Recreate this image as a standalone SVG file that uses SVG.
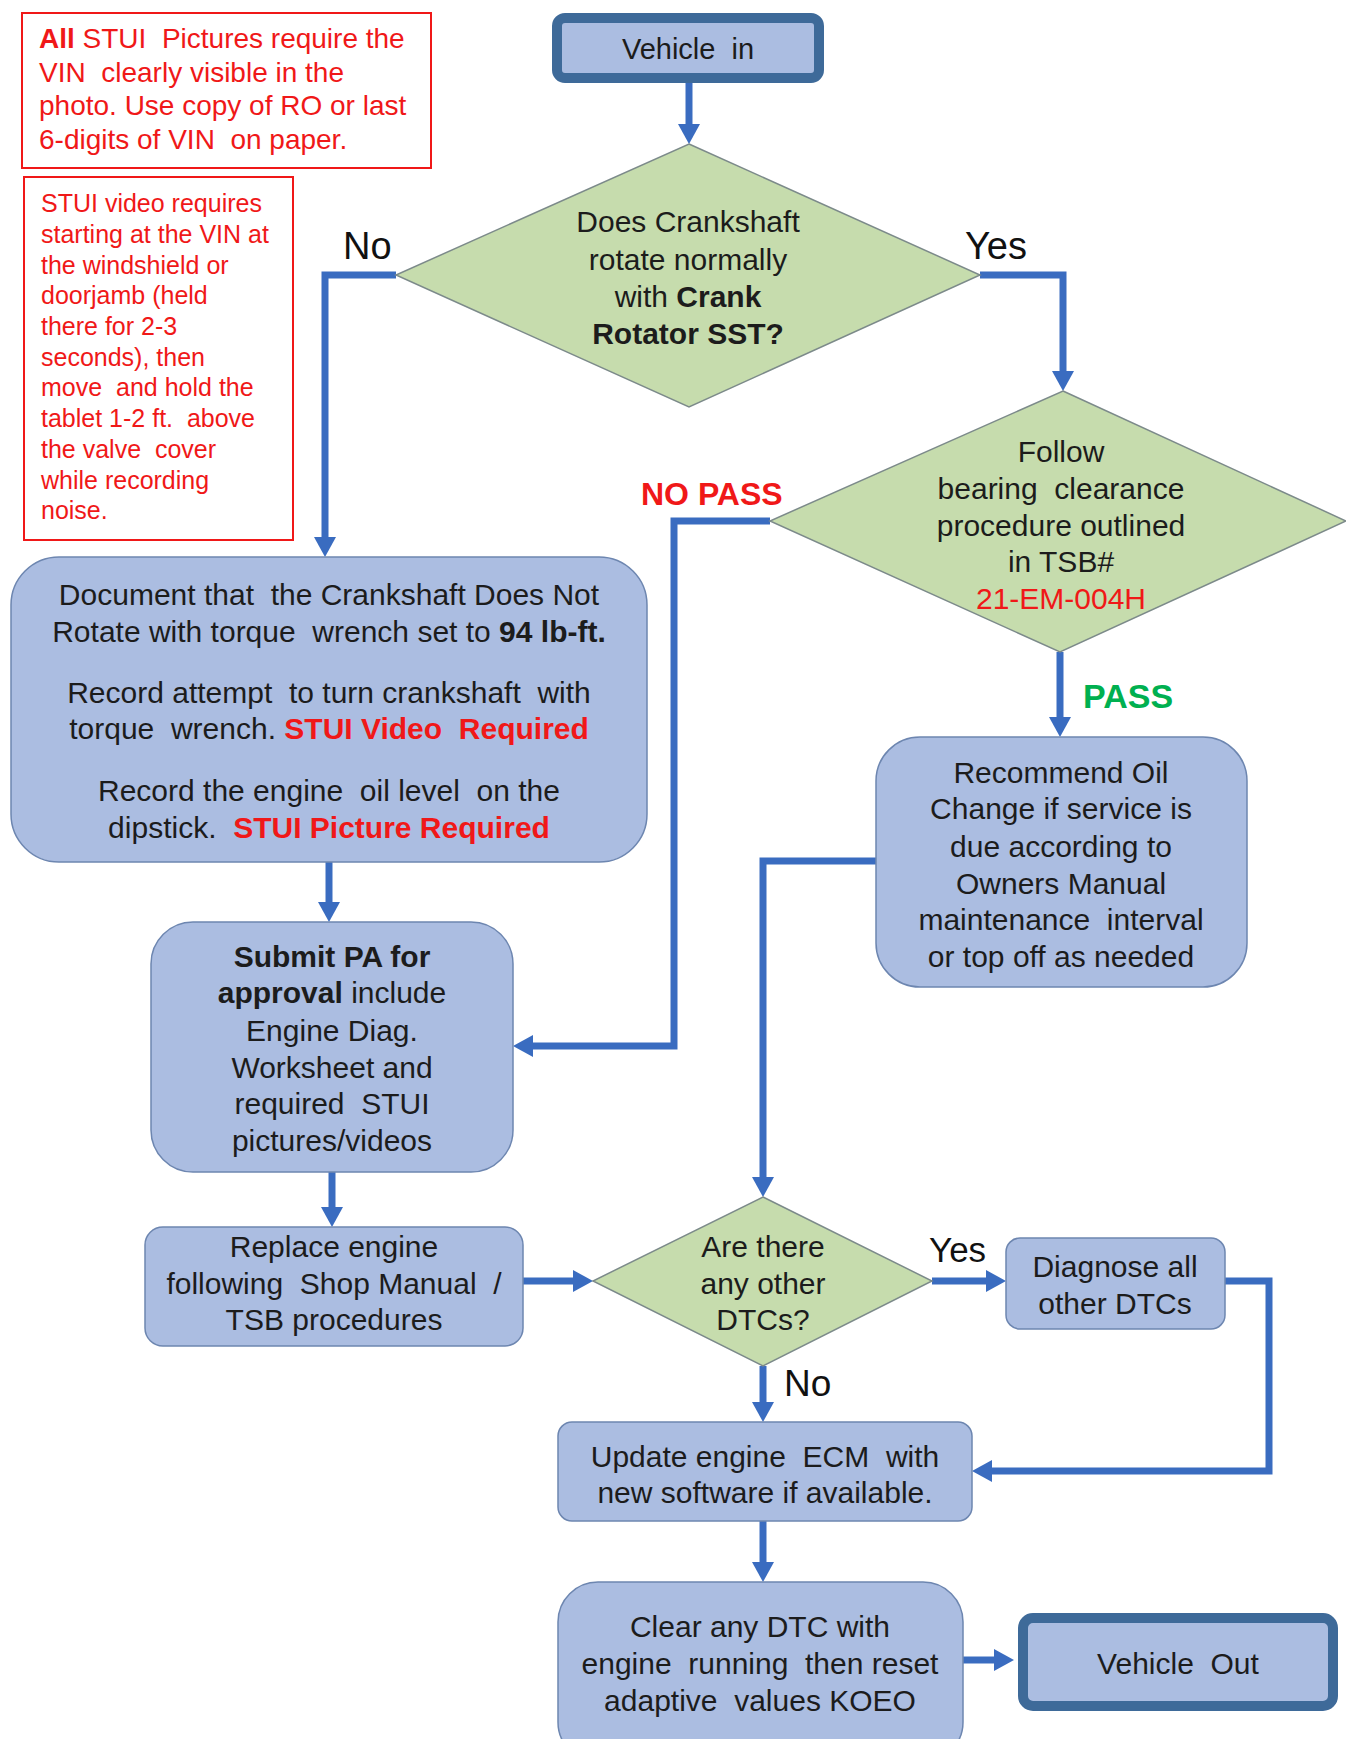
<svg xmlns="http://www.w3.org/2000/svg" width="1346" height="1739" viewBox="0 0 1346 1739">
<style>
.box{fill:#abbde1;stroke:#6d86b0;stroke-width:1.5}
.dia{fill:#c6dcad;stroke:#7c8a8a;stroke-width:1.5}
.term{fill:#abbde1;stroke:#3e6a99;stroke-width:10}
.note{fill:#ffffff;stroke:#f01818;stroke-width:2}
.conn{fill:none;stroke:#3a6cc0;stroke-width:7;marker-end:url(#ah)}
text{font-family:"Liberation Sans",Arial,sans-serif;white-space:pre}
.t{font-size:30px;fill:#1c1c1c;text-anchor:middle}
.n1{font-size:28px;fill:#f01818}
.n2{font-size:25px;fill:#f01818}
.lbl{font-size:38px;fill:#111}
.b{font-weight:bold}
.r{fill:#f01818;font-weight:bold}
</style>
<defs>
<marker id="ah" viewBox="0 0 20 22" refX="1" refY="11" markerWidth="20" markerHeight="22" markerUnits="userSpaceOnUse" orient="auto">
<path d="M0,0 L20,11 L0,22 z" fill="#3a6cc0"/>
</marker>
</defs>
<rect width="1346" height="1739" fill="#ffffff"/>

<g id="connectors">
<path class="conn" d="M689,83 V125"/>
<path class="conn" d="M396,275 H325 V538"/>
<path class="conn" d="M980,275 H1063 V372"/>
<path class="conn" d="M770,521 H674 V1046 H532"/>
<path class="conn" d="M1060,652 V718"/>
<path class="conn" d="M329,862 V903"/>
<path class="conn" d="M332,1172 V1208"/>
<path class="conn" d="M523,1281 H574"/>
<path class="conn" d="M876,861 H763 V1178"/>
<path class="conn" d="M932,1281 H987"/>
<path class="conn" d="M1225,1281 H1269 V1471 H991"/>
<path class="conn" d="M763,1366 V1403"/>
<path class="conn" d="M763,1521 V1563"/>
<path class="conn" d="M963,1660 H995"/>
</g>

<g id="note-pictures">
<rect class="note" x="22" y="13" width="409" height="155"/>
<text class="n1" x="39" y="48"><tspan class="b">All</tspan> STUI  Pictures require the</text>
<text class="n1" x="39" y="82">VIN  clearly visible in the</text>
<text class="n1" x="39" y="115">photo. Use copy of RO or last</text>
<text class="n1" x="39" y="149">6-digits of VIN  on paper.</text>
</g>

<g id="note-video">
<rect class="note" x="24" y="177" width="269" height="363"/>
<text class="n2" x="41" y="212">STUI video requires</text>
<text class="n2" x="41" y="243">starting at the VIN at</text>
<text class="n2" x="41" y="274">the windshield or</text>
<text class="n2" x="41" y="304">doorjamb (held</text>
<text class="n2" x="41" y="335">there for 2-3</text>
<text class="n2" x="41" y="366">seconds), then</text>
<text class="n2" x="41" y="396">move  and hold the</text>
<text class="n2" x="41" y="427">tablet 1-2 ft.  above</text>
<text class="n2" x="41" y="458">the valve  cover</text>
<text class="n2" x="41" y="489">while recording</text>
<text class="n2" x="41" y="519">noise.</text>
</g>

<g id="vehicle-in">
<rect class="term" x="557" y="18" width="262" height="60" rx="8"/>
<text class="t" x="688" y="59" style="font-size:29px">Vehicle  in</text>
</g>

<g id="decision-crankshaft">
<polygon class="dia" points="689,144 980,275 689,407 396,275"/>
<text class="t" x="688" y="232">Does Crankshaft</text>
<text class="t" x="688" y="270">rotate normally</text>
<text class="t" x="688" y="307">with <tspan class="b">Crank</tspan></text>
<text class="t" x="688" y="344"><tspan class="b">Rotator SST?</tspan></text>
</g>

<g id="decision-bearing">
<polygon class="dia" points="1063,391 1346,521 1060,652 770,521"/>
<text class="t" x="1061" y="462">Follow</text>
<text class="t" x="1061" y="499">bearing  clearance</text>
<text class="t" x="1061" y="536">procedure outlined</text>
<text class="t" x="1061" y="572">in TSB#</text>
<text class="t" x="1061" y="609" style="fill:#f01818">21-EM-004H</text>
</g>

<g id="document">
<rect class="box" x="11" y="557" width="636" height="305" rx="48"/>
<text class="t" x="329" y="605">Document that  the Crankshaft Does Not</text>
<text class="t" x="329" y="642">Rotate with torque  wrench set to <tspan class="b">94 lb-ft.</tspan></text>
<text class="t" x="329" y="703">Record attempt  to turn crankshaft  with</text>
<text class="t" x="329" y="739">torque  wrench. <tspan class="r">STUI Video  Required</tspan></text>
<text class="t" x="329" y="801">Record the engine  oil level  on the</text>
<text class="t" x="329" y="838">dipstick.  <tspan class="r">STUI Picture Required</tspan></text>
</g>

<g id="submit-pa">
<rect class="box" x="151" y="922" width="362" height="250" rx="42"/>
<text class="t" x="332" y="967"><tspan class="b">Submit PA for</tspan></text>
<text class="t" x="332" y="1003"><tspan class="b">approval</tspan> include</text>
<text class="t" x="332" y="1041">Engine Diag.</text>
<text class="t" x="332" y="1078">Worksheet and</text>
<text class="t" x="332" y="1114">required  STUI</text>
<text class="t" x="332" y="1151">pictures/videos</text>
</g>

<g id="replace-engine">
<rect class="box" x="145" y="1227" width="378" height="119" rx="18"/>
<text class="t" x="334" y="1257">Replace engine</text>
<text class="t" x="334" y="1294">following  Shop Manual  /</text>
<text class="t" x="334" y="1330">TSB procedures</text>
</g>

<g id="recommend-oil">
<rect class="box" x="876" y="737" width="371" height="250" rx="44"/>
<text class="t" x="1061" y="783">Recommend Oil</text>
<text class="t" x="1061" y="819">Change if service is</text>
<text class="t" x="1061" y="857">due according to</text>
<text class="t" x="1061" y="894">Owners Manual</text>
<text class="t" x="1061" y="930">maintenance  interval</text>
<text class="t" x="1061" y="967">or top off as needed</text>
</g>

<g id="decision-dtcs">
<polygon class="dia" points="763,1197 932,1281 763,1366 593,1281"/>
<text class="t" x="763" y="1257">Are there</text>
<text class="t" x="763" y="1294">any other</text>
<text class="t" x="763" y="1330">DTCs?</text>
</g>

<g id="diagnose">
<rect class="box" x="1006" y="1238" width="219" height="91" rx="14"/>
<text class="t" x="1115" y="1277">Diagnose all</text>
<text class="t" x="1115" y="1314">other DTCs</text>
</g>

<g id="update-ecm">
<rect class="box" x="558" y="1422" width="414" height="99" rx="14"/>
<text class="t" x="765" y="1467">Update engine  ECM  with</text>
<text class="t" x="765" y="1503">new software if available.</text>
</g>

<g id="clear-dtc">
<rect class="box" x="558" y="1582" width="405" height="180" rx="40"/>
<text class="t" x="760" y="1637">Clear any DTC with</text>
<text class="t" x="760" y="1674">engine  running  then reset</text>
<text class="t" x="760" y="1711">adaptive  values KOEO</text>
</g>

<g id="vehicle-out">
<rect class="term" x="1023" y="1618" width="310" height="88" rx="10"/>
<text class="t" x="1178" y="1674">Vehicle  Out</text>
</g>

<g id="labels">
<text class="lbl" x="343" y="259">No</text>
<text class="lbl" x="965" y="259">Yes</text>
<text x="641" y="505" style="font-size:32px;font-weight:bold;fill:#f01818">NO PASS</text>
<text x="1083" y="708" style="font-size:34px;font-weight:bold;fill:#00b050">PASS</text>
<text class="lbl" x="929" y="1262" style="font-size:35px">Yes</text>
<text class="lbl" x="784" y="1396" style="font-size:37px">No</text>
</g>
</svg>
